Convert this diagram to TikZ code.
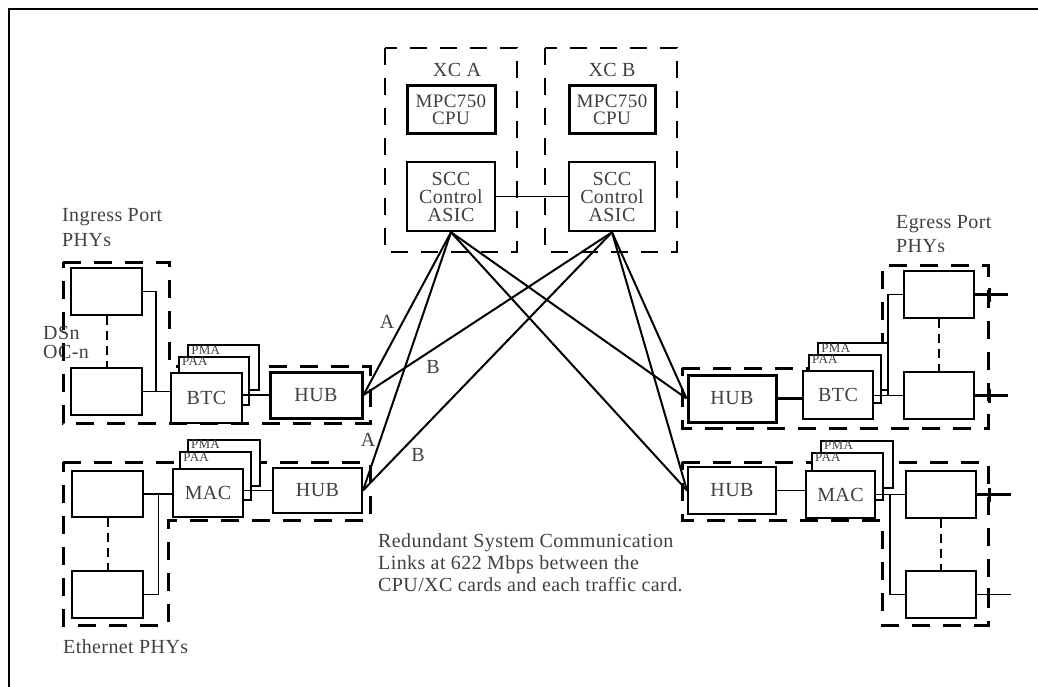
\documentclass[tikz,border=0pt]{standalone}
\usepackage{fontspec}
\newfontfamily\dfont[LetterSpace=2]{Liberation Serif}
\usetikzlibrary{calc}
\newcommand\boxat[8][]{\node[bx=#7, minimum width={#4-#2}, minimum height={#5-#3}, #1] (#6) at ({(#2+#4)/2},{(#3+#5)/2}) {#8};}
\begin{document}
\begin{tikzpicture}[x=1pt,y=-1pt,
  txt/.style={font=\dfont\fontsize{20}{24}\selectfont, text=black!75, inner sep=0},
  bx/.style={draw, fill=white, inner sep=0, line width=#1, align=center,
    font=\dfont\fontsize{20}{18}\selectfont, text=black!75},
  tight/.style={font=\dfont\fontsize{19}{17.5}\selectfont},
  grp/.style={line width=3pt, dash pattern=on 18pt off 13pt},
  xcgrp/.style={line width=1.8pt, dash pattern=on 17pt off 13pt},
  lnk/.style={line width=2pt},
  wire/.style={line width=1.5pt},
  thickwire/.style={line width=2.5pt},
  sep/.style={line width=2pt, dash pattern=on 9pt off 6pt},
  tab/.style={label={[font=\dfont\fontsize{13}{13}\selectfont, text=black!75, inner sep=0, anchor=north west, xshift=4pt, yshift=-1pt]north west:#1}}
]
\useasboundingbox (0,0) rectangle (1038,687);
% frame
\draw[line width=2.5pt] (9,687) -- (9,9) -- (1038,9);

% dashed groups
\draw[grp] (63,262) -- (169,262) -- (169,366) -- (370,366) -- (370,423) -- (63,423) -- cycle;
\draw[grp] (63,462) -- (370,462) -- (370,520) -- (168,520) -- (168,625) -- (63,625) -- cycle;
\draw[grp] (682,368) -- (882,368) -- (882,265) -- (988,265) -- (988,428) -- (682,428) -- cycle;
\draw[grp] (682,462) -- (988,462) -- (988,625) -- (882,625) -- (882,520) -- (682,520) -- cycle;
\draw[xcgrp] (385,48) rectangle (517,252);
\draw[xcgrp] (545,48) rectangle (677,252);

% ingress
\boxat{71}{268}{142}{315}{phyIa}{2pt}{}
\boxat{71}{368}{142}{415}{phyIb}{2pt}{}
\boxat[tab=PMA]{188}{345}{259}{390}{pmaI}{1.5pt}{}
\boxat[tab=PAA]{179}{357}{249}{405}{paaI}{2pt}{}
\boxat{171}{373}{242}{423}{btcI}{2pt}{BTC}
\boxat{270}{372}{362}{418}{hubI}{3pt}{HUB}

% ethernet left
\boxat{72}{471}{143}{517}{phyEa}{2.5pt}{}
\boxat{72}{571}{143}{618}{phyEb}{2.5pt}{}
\boxat[tab=PMA]{188}{440}{260}{486}{pmaE}{2pt}{}
\boxat[tab=PAA]{180}{452}{251}{500}{paaE}{1.5pt}{}
\boxat{173}{469}{243}{517}{macE}{2pt}{MAC}
\boxat{273}{468}{362}{513}{hubE}{2pt}{HUB}

% egress
\boxat{904}{271}{974}{318}{phyOa}{2.5pt}{}
\boxat{904}{372}{974}{419}{phyOb}{2.5pt}{}
\boxat[tab=PMA]{818}{343}{888}{390}{pmaO}{1.5pt}{}
\boxat[tab=PAA]{809}{355}{881}{403}{paaO}{2pt}{}
\boxat{803}{371}{873}{419}{btcO}{2.5pt}{BTC}
\boxat{688}{375}{776}{422}{hubO}{3pt}{HUB}

% egress ethernet
\boxat{906}{471}{976}{518}{phyPa}{2.5pt}{}
\boxat{906}{571}{976}{618}{phyPb}{1.5pt}{}
\boxat[tab=PMA]{821}{441}{893}{488}{pmaP}{2pt}{}
\boxat[tab=PAA]{812}{453}{883}{500}{paaP}{2pt}{}
\boxat{806}{471}{875}{518}{macP}{2.5pt}{MAC}
\boxat{688}{467}{776}{514}{hubP}{2pt}{HUB}

% XC cards
\boxat[tight]{407}{86}{495}{134}{cpuA}{3pt}{MPC750\\CPU}
\boxat{407}{162}{495}{231}{sccA}{2.5pt}{SCC\\Control\\ASIC}
\boxat[tight]{569}{86}{655}{134}{cpuB}{3pt}{MPC750\\CPU}
\boxat{569}{162}{655}{231}{sccB}{2.5pt}{SCC\\Control\\ASIC}

% internal connectors
\draw[sep] (phyIa.south) -- (phyIb.north);
\draw[sep] (phyEa.south) -- (phyEb.north);
\draw[sep] (phyOa.south) -- (phyOb.north);
\draw[sep] (phyPa.south) -- (phyPb.north);

\draw[wire] (phyIa.east) -- ++(13,0) |- (phyIb.east);
\draw[wire] (phyIb.east) -- (phyIb.east -| btcI.west);
\draw[thickwire] (hubI.west) -- (hubI.west -| btcI.east);

\draw[wire] (phyEa.east) -- (phyEa.east -| macE.west);
\draw[wire] (phyEb.east) -- ++(14,0) |- (phyEa.east);
\draw[wire] (hubE.west) -- (hubE.west -| macE.east);

\draw[thickwire] (hubO.east) -- (hubO.east -| btcO.west);
\draw[wire] (phyOb.west) -- (phyOb.west -| btcO.east);
\draw[wire] (phyOa.west) -- ++(-15,0) |- (phyOb.west);
\draw[thickwire] (phyOa.east) -- ++(33,0) coordinate (outOa);
\draw[thickwire] (phyOb.east) -- ++(33,0) coordinate (outOb);

\draw[wire] (hubP.east) -- (hubP.east -| macP.west);
\draw[wire] (phyPa.west) -- (phyPa.west -| macP.east);
\draw[wire] (phyPa.west) -- ++(-15,0) |- (phyPb.west);
\draw[thickwire] (phyPa.east) -- ++(34,0) coordinate (outPa);
\draw[wire] (phyPb.east) -- ++(34,0) coordinate (outPb);

\foreach \n/\d in {phyOa/14, phyOb/14, phyPa/12, phyPb/12}
  \draw[line width=3pt] ([xshift=\d pt, yshift=7pt]\n.east) -- ++(0,14);

\draw[line width=1.2pt] (sccA.east) -- (sccB.west);

% redundant links
\foreach \s in {sccA, sccB}{
  \draw[lnk] (\s.south) -- (hubI.east);
  \draw[lnk] (\s.south) -- (hubE.east);
  \draw[lnk] (\s.south) -- (hubO.west);
  \draw[lnk] (\s.south) -- (hubP.west);
}

% texts
\node[txt, anchor=base west] (ingA) at (62,222) {Ingress Port};
\node[txt, anchor=base west] (ingB) at (62,246) {PHYs};
\node[txt, anchor=base west] (egA) at (896,228) {Egress Port};
\node[txt, anchor=base west] (egB) at (896,252) {PHYs};
\node[txt, anchor=base west] (ethT) at (63,653) {Ethernet PHYs};
\node[txt, anchor=base west] (dsn) at (43,339) {DSn};
\node[txt, anchor=base west] (ocn) at (43,358) {OC-n};
\node[txt, anchor=base] (xca) at (457,77) {XC A};
\node[txt, anchor=base] (xcb) at (612,77) {XC B};
\node[txt] (la1) at (387,322) {A};
\node[txt] (lb1) at (433,367) {B};
\node[txt] (la2) at (368,440) {A};
\node[txt] (lb2) at (418,455) {B};
\node[txt, anchor=base west] (cap1) at (378,547) {Redundant System Communication};
\node[txt, anchor=base west] (cap2) at (378,569) {Links at 622 Mbps between the};
\node[txt, anchor=base west] (cap3) at (378,591) {CPU/XC cards and each traffic card.};
\end{tikzpicture}
\end{document}
